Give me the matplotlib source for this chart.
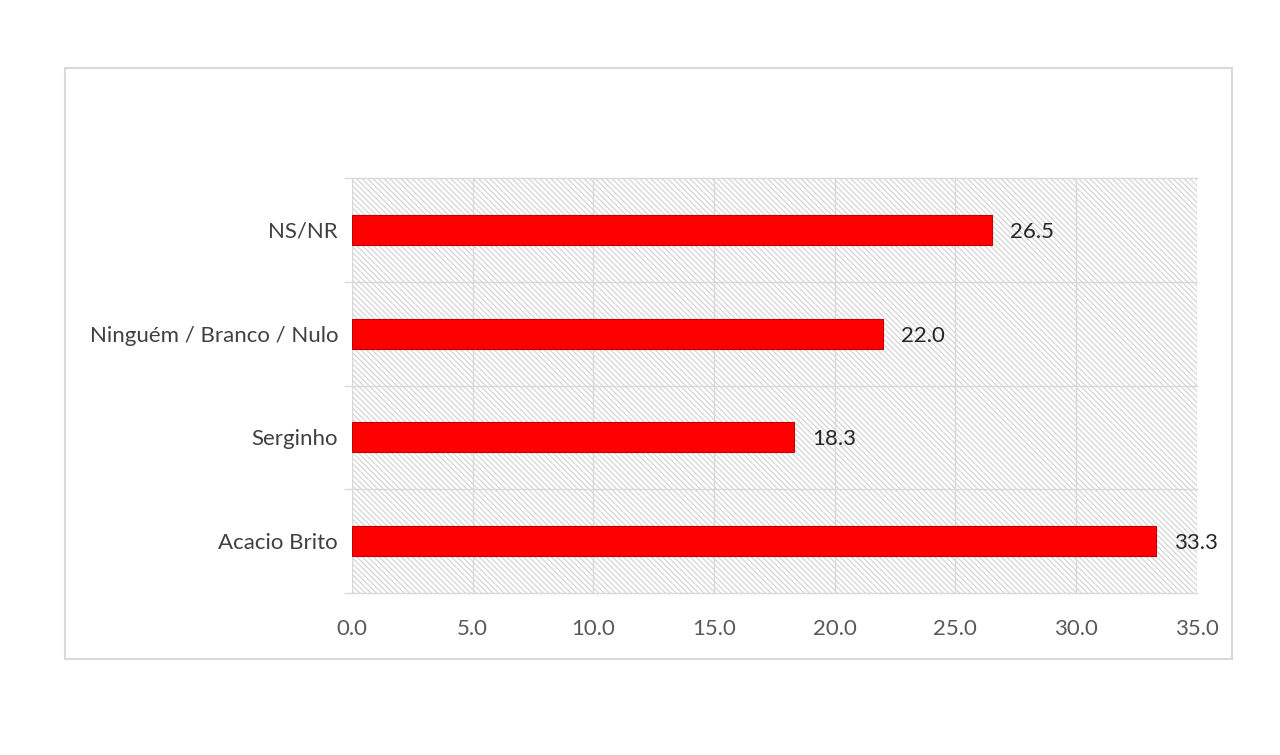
import matplotlib
matplotlib.use('Agg')
from matplotlib import pyplot as plt
from matplotlib.patches import Rectangle

# Data
categories = ['Acacio Brito', 'Serginho', 'Ninguém / Branco / Nulo', 'NS/NR']
values = [33.3, 18.3, 22.0, 26.5]
xticks = [0, 5, 10, 15, 20, 25, 30, 35]

plt.rcParams['font.family'] = ['Lato', 'DejaVu Sans']
plt.rcParams['hatch.linewidth'] = 0.9
plt.rcParams['hatch.color'] = '#d6d6d6'

fig = plt.figure(figsize=(12.8, 7.55), dpi=100)

# Outer chart border
fig.add_artist(Rectangle((65 / 1280, 1 - 659 / 755), (1232 - 65) / 1280, (659 - 68) / 755,
                         transform=fig.transFigure, fill=False, edgecolor='#d9d9d9', lw=1.5))

ax = fig.add_axes([0.275, 0.2146, 0.66, 0.5496])

# Hatched background
ax.add_patch(Rectangle((0, 0), 1, 1, transform=ax.transAxes, fill=False,
                       hatch='\\\\\\\\\\\\', edgecolor='#d6d6d6', lw=0, zorder=0))

pos = range(len(categories))
ax.barh(pos, values, height=0.29, color='#ff0000', edgecolor='#c00000', lw=0.8, zorder=3)

for i, v in enumerate(values):
    ax.text(v + 0.75, i - 0.02, f'{v:.1f}', va='center', ha='left', fontsize=16, color='#262626')

ax.set_xlim(0, 35)
ax.set_ylim(-0.5, 3.5)
ax.set_xticks(xticks)
ax.set_xticklabels([f'{t:.1f}' for t in xticks], fontsize=16, color='#595959')
ax.set_yticks(pos)
ax.set_yticklabels(categories, fontsize=16, color='#404040')
ax.tick_params(axis='x', length=0, pad=19)
ax.tick_params(axis='y', length=0, pad=10)

# Grid lines
for x in xticks:
    ax.axvline(x, color='#d9d9d9', lw=1, zorder=1)
for y in [-0.5, 0.5, 1.5, 2.5, 3.5]:
    ax.plot([-0.3, 35], [y, y], color='#d9d9d9', lw=1, zorder=1, clip_on=False)

for s in ax.spines.values():
    s.set_visible(False)

fig.savefig('out.png', dpi=100, facecolor='white')
